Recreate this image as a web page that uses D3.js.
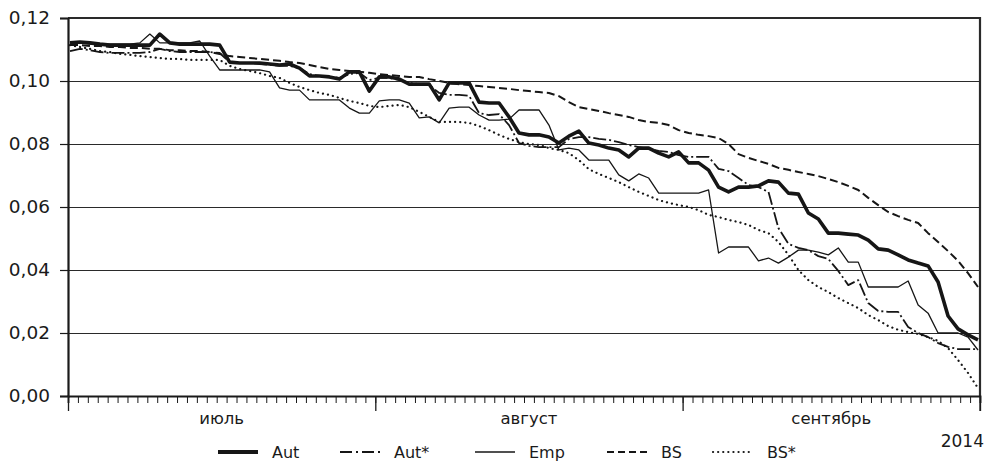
<!DOCTYPE html>
<html>
<head>
<meta charset="utf-8">
<script src="https://cdn.jsdelivr.net/npm/d3@7"></script>
<style>
  body { margin: 0; background: #fff; }
  text { font-family: "DejaVu Sans", sans-serif; fill: #1a1a1a; }
</style>
</head>
<body>
<div id="chart"></div>
<script>
// period shown: 1 July - 30 September 2014, one value per day
var startDate = new Date(2014, 6, 1);
var endDate   = new Date(2014, 9, 1);
var monthLabels = ["июль", "август", "сентябрь"];
var yearLabel = "2014";
var yTicks = [0, 0.02, 0.04, 0.06, 0.08, 0.10, 0.12];
var seriesNames = ["Aut", "Aut*", "Emp", "BS", "BS*"];

var aut = [.1121,.1124,.1121,.1117,.1114,.1114,.1114,.1114,.1114,.1149,
           .1121,.1117,.1117,.1117,.1117,.1114,.1060,.1057,.1057,.1057,
           .1054,.1051,.1054,.1041,.1016,.1016,.1013,.1006,.1029,.1029,
           .0968,.1013,.1013,.1006,.0990,.0990,.0990,.0940,.0994,.0994,
           .0994,.0933,.0930,.0930,.0886,.0835,.0829,.0829,.0822,.0803,
           .0825,.0841,.0803,.0797,.0787,.0781,.0759,.0787,.0787,.0771,
           .0759,.0775,.0740,.0740,.0717,.0663,.0648,.0663,.0663,.0667,
           .0683,.0679,.0644,.0641,.0581,.0562,.0517,.0517,.0514,.0511,
           .0495,.0467,.0463,.0448,.0432,.0422,.0413,.0362,.0254,.0213,.0194,.0178];

var autStar = [.1095,.1102,.1098,.1092,.1089,.1089,.1089,.1089,.1092,.1102,
               .1095,.1092,.1092,.1092,.1092,.1089,.1060,.1057,.1057,.1054,
               .1051,.1048,.1048,.1041,.1022,.1016,.1013,.1010,.1022,.1026,
               .1003,.1010,.1010,.1003,.0994,.0990,.0987,.0962,.0956,.0956,
               .0953,.0898,.0892,.0895,.0860,.0803,.0794,.0790,.0790,.0790,
               .0816,.0822,.0822,.0816,.0813,.0806,.0797,.0790,.0784,.0778,
               .0775,.0765,.0759,.0759,.0759,.0721,.0714,.0692,.0670,.0663,
               .0648,.0533,.0483,.0470,.0463,.0444,.0435,.0397,.0352,.0368,
               .0295,.0270,.0267,.0267,.0219,.0200,.0187,.0168,.0156,.0149,.0149,.0149];

var emp = [.1121,.1121,.1117,.1117,.1117,.1117,.1117,.1121,.1149,.1121,
           .1121,.1121,.1121,.1127,.1079,.1035,.1035,.1035,.1035,.1035,
           .1029,.0978,.0971,.0971,.0940,.0940,.0940,.0940,.0914,.0898,
           .0898,.0937,.0940,.0940,.0930,.0883,.0886,.0867,.0914,.0917,
           .0917,.0892,.0876,.0876,.0879,.0908,.0908,.0908,.0860,.0781,
           .0787,.0781,.0749,.0749,.0749,.0702,.0683,.0705,.0692,.0644,
           .0644,.0644,.0644,.0644,.0654,.0454,.0473,.0473,.0473,.0429,
           .0438,.0422,.0441,.0463,.0463,.0457,.0448,.0470,.0425,.0425,
           .0346,.0346,.0346,.0346,.0365,.0289,.0263,.0200,.0200,.0200,.0187,.0146];

var bs = [.1114,.1114,.1111,.1111,.1108,.1108,.1105,.1105,.1102,.1102,
          .1098,.1098,.1095,.1095,.1092,.1086,.1079,.1076,.1073,.1070,
          .1067,.1064,.1060,.1057,.1051,.1044,.1038,.1035,.1032,.1029,
          .1026,.1022,.1019,.1016,.1013,.1013,.1006,.1000,.0994,.0990,
          .0987,.0984,.0981,.0978,.0975,.0971,.0968,.0965,.0962,.0952,
          .0933,.0917,.0911,.0905,.0898,.0892,.0886,.0876,.0870,.0867,
          .0860,.0844,.0835,.0829,.0825,.0819,.0800,.0768,.0756,.0746,
          .0737,.0724,.0718,.0711,.0705,.0698,.0689,.0679,.0667,.0654,
          .0629,.0606,.0584,.0571,.0559,.0549,.0517,.0489,.0460,.0429,.0390,.0346];

var bsStar = [.1114,.1108,.1102,.1095,.1092,.1086,.1083,.1079,.1076,.1073,
              .1070,.1070,.1067,.1067,.1067,.1067,.1048,.1038,.1032,.1025,
              .1016,.1010,.0994,.0981,.0971,.0962,.0956,.0946,.0937,.0930,
              .0921,.0917,.0921,.0924,.0917,.0902,.0886,.0870,.0870,.0870,
              .0867,.0857,.0844,.0829,.0816,.0806,.0800,.0797,.0787,.0781,
              .0771,.0749,.0720,.0705,.0692,.0679,.0663,.0648,.0635,.0622,
              .0613,.0606,.0600,.0590,.0575,.0568,.0559,.0552,.0543,.0527,
              .0517,.0489,.0448,.0400,.0368,.0346,.0330,.0311,.0295,.0279,
              .0257,.0241,.0222,.0210,.0203,.0197,.0187,.0175,.0152,.0114,.0073,.0025];

var width = 987, height = 463;
var plotLeft = 68, plotRight = 980, plotTop = 18, plotBottom = 396;

var svg = d3.select("#chart").append("svg")
    .attr("width", width)
    .attr("height", height);

var x = d3.scaleTime().domain([startDate, endDate]).range([plotLeft, plotRight]);
var xPt = d3.scaleLinear().domain([0, aut.length - 1]).range([plotLeft + 2, plotRight - 2]);
var y = d3.scaleLinear().domain([0, 0.12]).range([plotBottom, plotTop]);

// grid lines
svg.append("g")
    .attr("transform", "translate(" + plotLeft + ",0)")
    .call(d3.axisLeft(y).tickValues(yTicks.slice(1, -1)).tickSize(-(plotRight - plotLeft)).tickFormat(""))
    .call(function(g) { g.select(".domain").remove(); })
    .selectAll("line").attr("stroke", "#2a2a2a").attr("stroke-width", 1.2);

// frame: top and right
svg.append("path")
    .attr("d", d3.line()([[plotLeft, y(0.12)], [plotRight, y(0.12)], [plotRight, plotBottom]]))
    .attr("fill", "none").attr("stroke", "#2a2a2a").attr("stroke-width", 2.2);

// y axis
var yAxis = svg.append("g")
    .attr("transform", "translate(" + plotLeft + ",0)")
    .call(d3.axisLeft(y).tickValues(yTicks).tickSize(8).tickPadding(10)
        .tickFormat(function(d) { return d3.format(".2f")(d).replace(".", ","); }));
yAxis.select(".domain").attr("stroke", "#1a1a1a").attr("stroke-width", 2.2);
yAxis.selectAll(".tick line").attr("stroke", "#1a1a1a").attr("stroke-width", 1.2);
yAxis.selectAll("text").style("font-size", "18.5px").attr("fill", "#1a1a1a");

// x axis: day ticks and month ticks
var xDays = svg.append("g")
    .attr("transform", "translate(0," + plotBottom + ")")
    .call(d3.axisBottom(x).ticks(d3.timeDay.every(1)).tickSize(7).tickFormat(""));
xDays.select(".domain").attr("stroke", "#1a1a1a").attr("stroke-width", 1.8);
xDays.selectAll(".tick line").attr("stroke", "#1a1a1a").attr("stroke-width", 1);

var xMonths = svg.append("g")
    .attr("transform", "translate(0," + plotBottom + ")")
    .call(d3.axisBottom(x).ticks(d3.timeMonth.every(1)).tickSize(15).tickFormat(""));
xMonths.select(".domain").remove();
xMonths.selectAll(".tick line").attr("stroke", "#1a1a1a").attr("stroke-width", 1.3);
svg.append("line")
    .attr("x1", x(endDate)).attr("x2", x(endDate))
    .attr("y1", plotBottom).attr("y2", plotBottom + 15)
    .attr("stroke", "#1a1a1a").attr("stroke-width", 1.3);

svg.append("g").selectAll("text")
    .data(monthLabels)
    .enter()
    .append("text")
    .attr("x", function(d, i) {
      var a = d3.timeMonth.offset(startDate, i), b = d3.timeMonth.offset(startDate, i + 1);
      return (x(a) + x(b)) / 2;
    })
    .attr("y", plotBottom + 28)
    .attr("text-anchor", "middle")
    .style("font-size", "16.5px")
    .text(function(d) { return d; });

svg.append("text")
    .attr("x", plotRight + 4)
    .attr("y", plotBottom + 51)
    .attr("text-anchor", "end")
    .style("font-size", "17px")
    .text(yearLabel);

// series
var styles = [
  { w: 3.6, dash: null, cap: "butt" },
  { w: 1.8, dash: "13,3,2,3", cap: "butt" },
  { w: 1.3, dash: null, cap: "butt" },
  { w: 2.0, dash: "8,4", cap: "butt" },
  { w: 2.2, dash: "0.1,5", cap: "round" }
];
var allSeries = [aut, autStar, emp, bs, bsStar];

var line = d3.line()
    .x(function(d, i) { return xPt(i); })
    .y(function(d) { return y(d); });

svg.append("g").selectAll("path")
    .data(allSeries)
    .enter()
    .append("path")
    .attr("d", line)
    .attr("fill", "none")
    .attr("stroke", "#161616")
    .attr("stroke-linejoin", "round")
    .attr("stroke-width", function(d, i) { return styles[i].w; })
    .attr("stroke-dasharray", function(d, i) { return styles[i].dash; })
    .attr("stroke-linecap", function(d, i) { return styles[i].cap; });

// legend
var legendX = [218, 340, 475, 607, 713];
var legend = svg.append("g").selectAll("g")
    .data(seriesNames)
    .enter()
    .append("g")
    .attr("transform", function(d, i) { return "translate(" + legendX[i] + "," + 452 + ")"; });

legend.append("line")
    .attr("x1", 0).attr("x2", 40)
    .attr("stroke", "#161616")
    .attr("stroke-width", function(d, i) { return i == 0 ? 4 : styles[i].w; })
    .attr("stroke-dasharray", function(d, i) { return i == 1 ? "12,4,2,4" : i == 3 ? "7,4" : styles[i].dash; })
    .attr("stroke-linecap", function(d, i) { return styles[i].cap; });

legend.append("text")
    .attr("x", 54)
    .attr("y", 5.5)
    .style("font-size", "16px")
    .text(function(d) { return d; });
</script>
</body>
</html>
